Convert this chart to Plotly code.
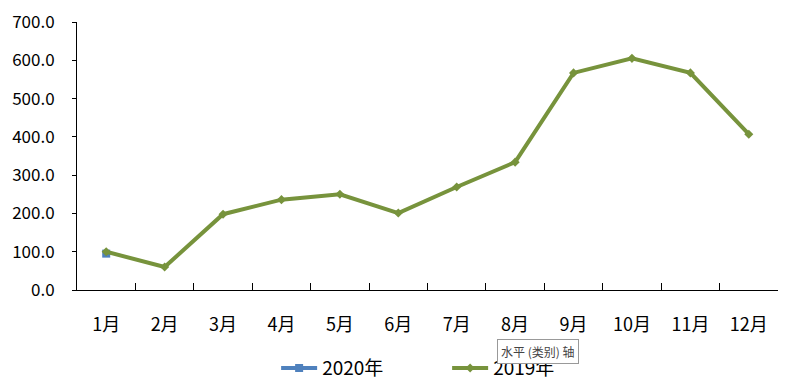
import plotly.graph_objects as go

months = ["1月", "2月", "3月", "4月", "5月", "6月", "7月", "8月", "9月", "10月", "11月", "12月"]
values_2020 = [95]
values_2019 = [100, 60, 198, 236, 250, 201, 269, 334, 567, 605, 567, 407]
y_ticks = [0, 100, 200, 300, 400, 500, 600, 700]

font_family = "Noto Sans CJK SC, Microsoft YaHei, sans-serif"

fig = go.Figure()
fig.add_trace(go.Scatter(
    x=months[:len(values_2020)], y=values_2020, name="2020年",
    mode="lines+markers",
    line=dict(color="#4F81BD", width=4),
    marker=dict(symbol="square", size=8, color="#4F81BD"),
))
fig.add_trace(go.Scatter(
    x=months, y=values_2019, name="2019年",
    mode="lines+markers",
    line=dict(color="#77933C", width=4),
    marker=dict(symbol="diamond", size=7, color="#77933C"),
))

fig.update_layout(
    width=795, height=390,
    margin=dict(l=77, r=17, t=22, b=100, autoexpand=False),
    paper_bgcolor="white", plot_bgcolor="white",
    font=dict(family=font_family, size=16, color="#000000"),
    showlegend=True,
    legend=dict(orientation="h", x=0.528, xanchor="center",
                yref="container", y=0.056, yanchor="middle",
                font=dict(size=19), entrywidth=120, itemwidth=36),
    xaxis=dict(
        type="category", categoryorder="array", categoryarray=months,
        range=[-0.5, 11.5], automargin=False,
        showline=True, linecolor="black", linewidth=1,
        ticks="inside", ticklen=7, tickcolor="black", tickson="boundaries",
        showgrid=False, ticklabelstandoff=18,
        tickfont=dict(size=18),
    ),
    yaxis=dict(
        range=[0, 700], tickvals=y_ticks, tickformat=".1f", automargin=False,
        showline=True, linecolor="black", linewidth=1,
        ticks="outside", ticklen=4, tickcolor="black",
        showgrid=False, zeroline=False, ticklabelstandoff=14,
        tickfont=dict(size=17),
    ),
    annotations=[dict(
        text="水平 (类别) 轴", xref="paper", yref="paper",
        x=0.658, y=-0.231, xanchor="center", yanchor="middle",
        showarrow=False, font=dict(size=12, color="#444444"),
        bgcolor="white", bordercolor="#999999", borderwidth=1, borderpad=3,
    )],
)

fig.write_html("out.html")
